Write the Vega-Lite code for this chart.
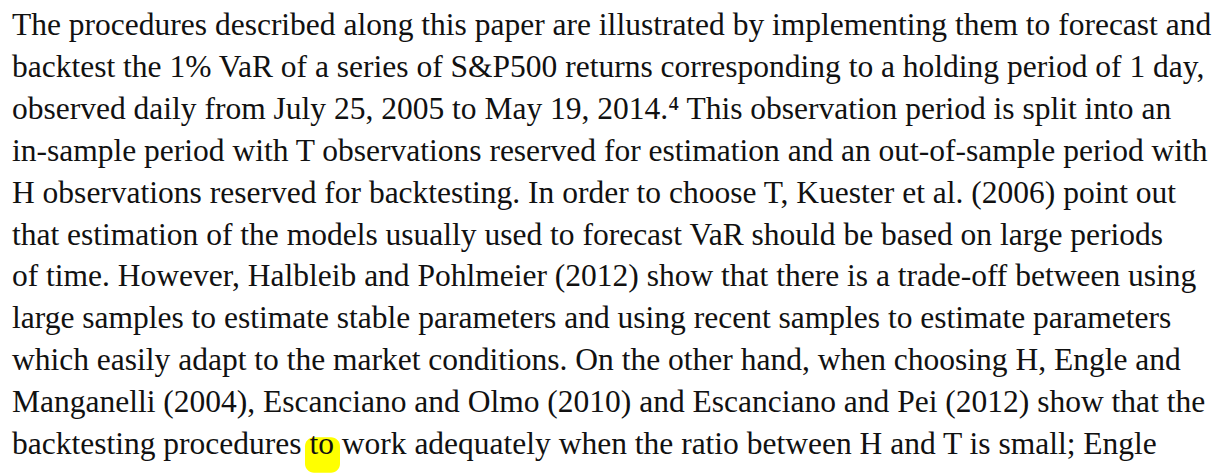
{
  "$schema": "https://vega.github.io/schema/vega-lite/v6.json",
  "autosize": {"type": "fit", "contains": "padding"},
  "width": 1230,
  "height": 473,
  "padding": 0,
  "background": "#ffffff",
  "config": {"view": {"stroke": null}},
  "datasets": {
    "lines": [
      {"line": 1, "text": "The procedures described along this paper are illustrated by implementing them to forecast and"},
      {"line": 2, "text": "backtest the 1% VaR of a series of S&P500 returns corresponding to a holding period of 1 day,"},
      {"line": 3, "text": "observed daily from July 25, 2005 to May 19, 2014.⁴  This observation period is split into an"},
      {"line": 4, "text": "in-sample period with T observations reserved for estimation and an out-of-sample period with"},
      {"line": 5, "text": "H observations reserved for backtesting. In order to choose T, Kuester et al. (2006) point out"},
      {"line": 6, "text": "that estimation of the models usually used to forecast VaR should be based on large periods"},
      {"line": 7, "text": "of time. However, Halbleib and Pohlmeier (2012) show that there is a trade-off between using"},
      {"line": 8, "text": "large samples to estimate stable parameters and using recent samples to estimate parameters"},
      {"line": 9, "text": "which easily adapt to the market conditions. On the other hand, when choosing H, Engle and"},
      {"line": 10, "text": "Manganelli (2004), Escanciano and Olmo (2010) and Escanciano and Pei (2012) show that the"},
      {"line": 11, "text": "backtesting procedures to work adequately when the ratio between H and T is small; Engle"}
    ],
    "highlight": [
      {"word": "to", "start": 305, "end": 340, "top": 10.6, "bottom": 11.45}
    ]
  },
  "layer": [
    {
      "data": {"name": "highlight"},
      "mark": {"type": "rect", "color": "#ffff00", "cornerRadius": 9},
      "encoding": {
        "x": {"field": "start", "type": "quantitative", "scale": {"domain": [0, 1230]}, "axis": null},
        "x2": {"field": "end"},
        "y": {"field": "top", "type": "quantitative", "scale": {"domain": [0.16, 11.263], "reverse": true}, "axis": null},
        "y2": {"field": "bottom"}
      }
    },
    {
      "data": {"name": "lines"},
      "mark": {"type": "text", "align": "left", "baseline": "alphabetic", "font": "Liberation Serif", "fontSize": 31.5, "color": "#111111"},
      "encoding": {
        "x": {"datum": 12, "type": "quantitative", "scale": {"domain": [0, 1230]}, "axis": null},
        "y": {"field": "line", "type": "quantitative", "scale": {"domain": [0.16, 11.263], "reverse": true}, "axis": null},
        "text": {"field": "text"}
      }
    }
  ]
}
